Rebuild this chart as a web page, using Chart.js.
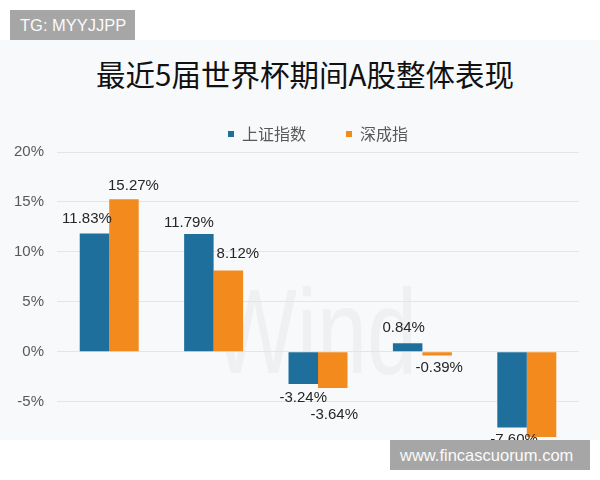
<!DOCTYPE html>
<html>
<head>
<meta charset="utf-8">
<script src="https://cdn.jsdelivr.net/npm/chart.js@4"></script>
<style>
  body { margin: 0; background: #fff; width: 600px; height: 480px; position: relative; overflow: hidden; }
  .panel { position: absolute; left: 0; top: 40px; width: 600px; height: 400px; background: #f8f9fb; overflow: hidden; }
  .title { position: absolute; left: 0; top: 12px; width: 610px; height: 40px; line-height: 40px; text-align: center;
           font: 29.5px "Noto Sans CJK SC", sans-serif; color: #111; }
  .mark { position: absolute; left: 212px; top: 222px; font: 120px "Liberation Sans", Arial, sans-serif; color: #eff0f2;
          transform: scaleX(0.75); transform-origin: left top; }
  #chart { position: absolute; left: 0; top: 0; }
  .tag { position: absolute; background: #a6a6a6; color: #fafafa; font: 16.5px "Liberation Sans", Arial, sans-serif;
         height: 30px; line-height: 30px; padding: 0 0 0 10px; box-sizing: border-box; white-space: nowrap; }
  .tg { left: 10px; top: 10px; width: 125px; }
  .url { left: 390px; top: 440px; width: 200px; }
</style>
</head>
<body>
<div class="panel">
  <div class="mark">Wind</div>
  <div class="title">最近5届世界杯期间A股整体表现</div>
  <canvas id="chart" width="600" height="440"></canvas>
</div>
<div class="tag tg">TG: MYYJJPP</div>
<div class="tag url">www.fincascuorum.com</div>

<script>
// data
const worldCups = ["2002", "2006", "2010", "2014", "2018"];
const shIndex = [11.83, 11.79, -3.24, 0.84, -7.60];
const szIndex = [15.27, 8.12, -3.64, -0.39, -8.55];
const yTicks = [-5, 0, 5, 10, 15, 20];

// label offsets from the bar end [dx, dy]
const labelOffsets = [
  [[-7.5, -15], [-10, -11], [0, 14], [-4, -15], [2, 12]],
  [[9.5, -13], [9.5, -17], [1.5, 27], [2, 12], [0, 14]],
];

const valueLabels = {
  id: "valueLabels",
  afterDatasetsDraw(chart) {
    const ctx = chart.ctx;
    ctx.save();
    ctx.font = '15px "Liberation Sans", Arial, sans-serif';
    ctx.fillStyle = "#262626";
    ctx.textAlign = "center";
    ctx.textBaseline = "middle";
    chart.data.datasets.forEach((ds, i) => {
      chart.getDatasetMeta(i).data.forEach((bar, j) => {
        const [dx, dy] = labelOffsets[i][j];
        ctx.fillText(ds.data[j].toFixed(2) + "%", bar.x + dx, bar.y + dy);
      });
    });
    ctx.restore();
  },
};

const config = {
  type: "bar",
  data: {
    labels: worldCups,
    datasets: [
      { label: "上证指数", data: shIndex, backgroundColor: "#1f6f9c" },
      { label: "深成指", data: szIndex, backgroundColor: "#f38a1e" },
    ],
  },
  options: {
    responsive: false,
    animation: false,
    datasets: { bar: { categoryPercentage: 0.565, barPercentage: 1 } },
    layout: { padding: { top: 46, left: 1, right: 21, bottom: 28.5 } },
    plugins: {
      tooltip: { enabled: false },
      legend: {
        fullSize: false,
        labels: {
          boxWidth: 6,
          boxHeight: 6,
          padding: 40,
          color: "#595959",
          font: { size: 16, family: '"Noto Sans CJK SC", sans-serif' },
        },
      },
    },
    scales: {
      x: { display: false },
      y: {
        min: -10,
        max: 20,
        afterBuildTicks: (axis) => {
          axis.ticks = yTicks.map((v) => ({ value: v }));
        },
        border: { display: false },
        grid: { color: "#e4e5e7", drawTicks: false },
        ticks: {
          padding: 13,
          color: "#595959",
          font: { size: 15, family: '"Liberation Sans", Arial, sans-serif' },
          callback: (v) => v + "%",
        },
      },
    },
  },
  plugins: [valueLabels],
};

const myChart = new Chart(document.getElementById("chart"), config);
</script>
</body>
</html>
